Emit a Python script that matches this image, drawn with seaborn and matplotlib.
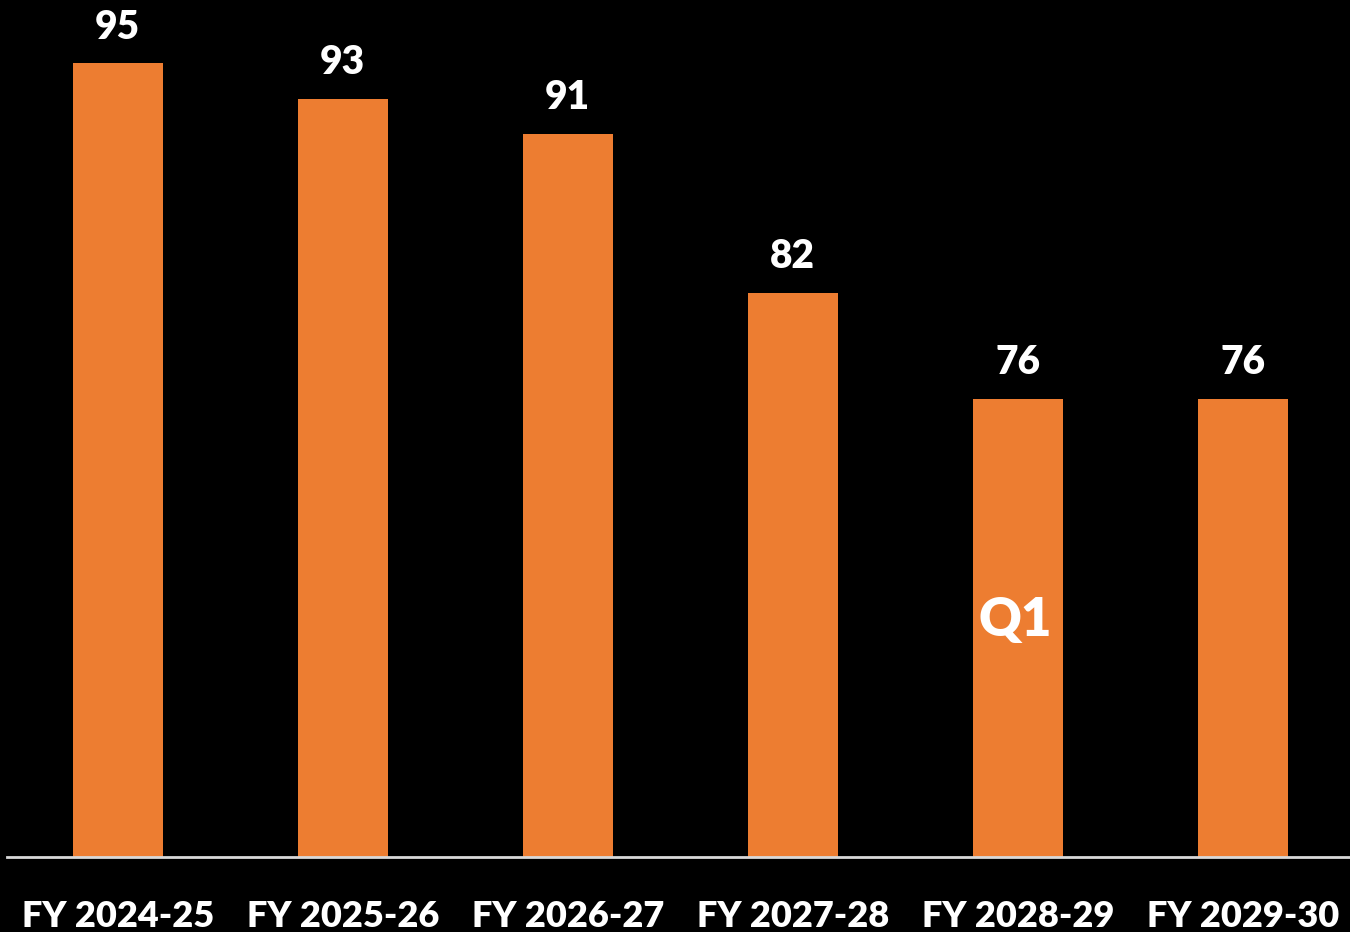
import matplotlib
matplotlib.use("Agg")
import matplotlib.pyplot as plt
import pandas as pd
import seaborn as sns

years = ["FY 2024-25", "FY 2025-26", "FY 2026-27", "FY 2027-28", "FY 2028-29", "FY 2029-30"]
values = [95, 93, 91, 82, 76, 76]
inner_label = "Q1"
inner_label_year = "FY 2028-29"
inner_label_value = 63.4

ORANGE = "#ED7D31"
BG = "#000000"

sns.set_theme(style="white")
plt.rcParams.update({
    "figure.facecolor": BG,
    "axes.facecolor": BG,
    "savefig.facecolor": BG,
})
plt.rcParams["font.family"] = ["Lato", "DejaVu Sans"]

df = pd.DataFrame({"year": years, "value": values})

fig = plt.figure(figsize=(13.5, 9.32), dpi=100)
ax = fig.add_axes([0.005, 0.0805, 0.995, 0.9195])

sns.barplot(data=df, x="year", y="value", color=ORANGE, saturation=1,
            width=0.4, linewidth=0, ax=ax)

ax.set_ylim(50, 98.6)
ax.set_xlim(-0.493, 5.476)
ax.set_xlabel("")
ax.set_ylabel("")
ax.set_yticks([])
for s in ["top", "right", "left"]:
    ax.spines[s].set_visible(False)
ax.spines["bottom"].set_color("#d9d9d9")
ax.spines["bottom"].set_linewidth(2)
ax.tick_params(axis="x", length=0, pad=31, labelsize=26, labelcolor="white")
for t in ax.get_xticklabels():
    t.set_fontweight("heavy")

# value labels above bars
for bar, val in zip(ax.patches, values):
    ax.text(bar.get_x() + bar.get_width() / 2, val + 1.0, f"{val}",
            ha="center", va="bottom", color="white", fontsize=28,
            fontweight="heavy", clip_on=False)

xi = years.index(inner_label_year)
ax.text(xi - 0.01, inner_label_value, inner_label, ha="center", va="center",
        color="white", fontsize=38, fontweight="heavy")

fig.savefig("out.png", dpi=100, facecolor=BG)
